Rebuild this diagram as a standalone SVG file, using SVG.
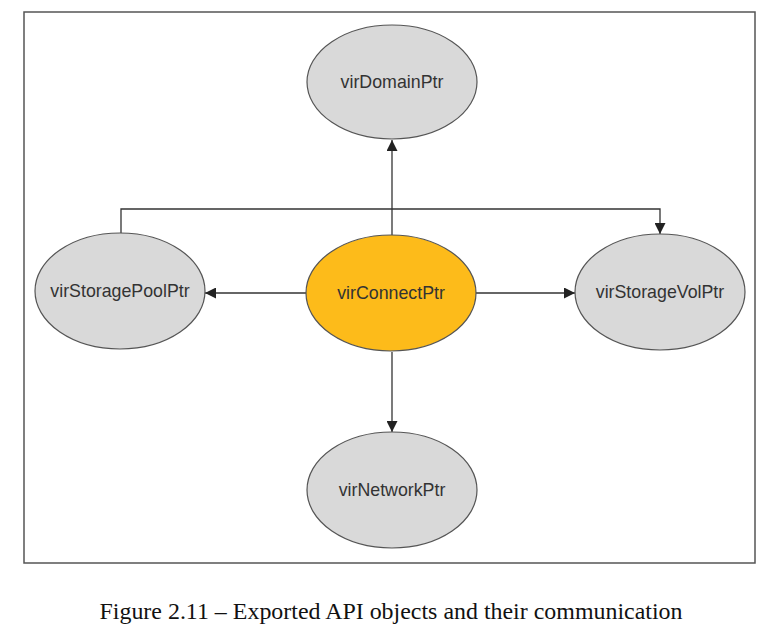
<svg xmlns="http://www.w3.org/2000/svg" width="780" height="637" viewBox="0 0 780 637">
<style>
.node ellipse{fill:#d9d9d9;stroke:#555;stroke-width:1.2}
#virConnectPtr ellipse{fill:#fdbb1a}
.node text{font-family:"Liberation Sans",Arial,sans-serif;font-size:17.8px;fill:#333;text-anchor:middle;dominant-baseline:central}
.edge{fill:none;stroke:#333;stroke-width:1.3;marker-end:url(#arr)}
.caption{font-family:"Liberation Serif","Times New Roman",serif;font-size:23px;fill:#111;text-anchor:middle}
</style>
<defs>
<marker id="arr" viewBox="0 0 10 10" refX="10" refY="5" markerWidth="11" markerHeight="11" markerUnits="userSpaceOnUse" orient="auto">
<path d="M0,0 L10,5 L0,10 z" fill="#222"/>
</marker>
</defs>
<rect width="780" height="637" fill="#fff"/>
<rect x="24" y="12" width="731" height="551" fill="none" stroke="#555" stroke-width="1.5"/>
<g id="connectors">
<path class="edge" d="M392,235 V140"/>
<path class="edge" d="M121,233 V209 H660 V234"/>
<path class="edge" d="M307,293 H205"/>
<path class="edge" d="M476,293 H575"/>
<path class="edge" d="M392,352 V432"/>
</g>
<g id="virDomainPtr" class="node"><ellipse cx="392" cy="82" rx="85" ry="57"/><text x="392" y="82">virDomainPtr</text></g>
<g id="virStoragePoolPtr" class="node"><ellipse cx="120" cy="291" rx="85" ry="58"/><text x="120" y="291">virStoragePoolPtr</text></g>
<g id="virConnectPtr" class="node"><ellipse cx="391" cy="293" rx="85" ry="58"/><text x="391" y="293">virConnectPtr</text></g>
<g id="virStorageVolPtr" class="node"><ellipse cx="660" cy="292" rx="85" ry="58"/><text x="660" y="292">virStorageVolPtr</text></g>
<g id="virNetworkPtr" class="node"><ellipse cx="392" cy="490" rx="85" ry="58"/><text x="392" y="490">virNetworkPtr</text></g>
<text class="caption" x="391" y="619" textLength="583" lengthAdjust="spacingAndGlyphs">Figure 2.11 – Exported API objects and their communication</text>
</svg>
